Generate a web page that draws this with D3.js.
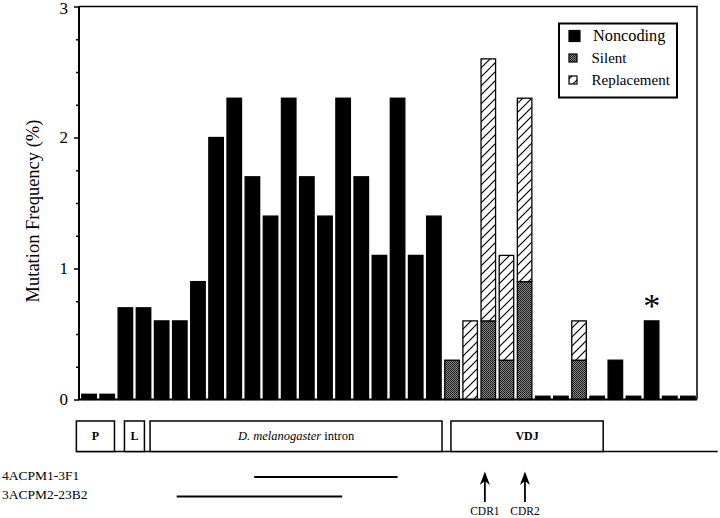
<!DOCTYPE html>
<html>
<head>
<meta charset="utf-8">
<script src="https://cdn.jsdelivr.net/npm/d3@7"></script>
<style>
  body { margin: 0; background: #fff; }
  svg text { font-family: "Liberation Serif", "Times New Roman", serif; fill: #000; }
</style>
</head>
<body>
<div id="vis-container"></div>
<script>
// 34 sequence positions along the construct
var positions = d3.range(34);

var noncoding   = [0.04, 0.04, 0.7, 0.7, 0.6, 0.6, 0.9, 2.0, 2.3, 1.7, 1.4, 2.3, 1.7, 1.4, 2.3, 1.7, 1.1, 2.3, 1.1, 1.4,
                   0, 0, 0, 0, 0, 0.025, 0.025, 0, 0.025, 0.3, 0.025, 0.6, 0.025, 0.025];
var silent      = [0, 0, 0, 0, 0, 0, 0, 0, 0, 0, 0, 0, 0, 0, 0, 0, 0, 0, 0, 0,
                   0.3, 0, 0.6, 0.3, 0.9, 0, 0, 0.3, 0, 0, 0, 0, 0, 0];
var replacement = [0, 0, 0, 0, 0, 0, 0, 0, 0, 0, 0, 0, 0, 0, 0, 0, 0, 0, 0, 0,
                   0, 0.6, 2.0, 0.8, 1.4, 0, 0, 0.3, 0, 0, 0, 0, 0, 0];

var yTicks = [0, 1, 2, 3];
var legendLabels = ["Noncoding", "Silent", "Replacement"];

// gene map, in position units
var regions   = [{ label: "P", from: -0.2, to: 1.9 },
                 { label: "L", from: 2.45, to: 3.55 },
                 { label: "intron", from: 3.86, to: 19.95 },
                 { label: "VDJ", from: 20.44, to: 28.83 }];
var mapEnd = 35.14;
var clones = [{ name: "4ACPM1-3F1", from: 9.6, to: 17.5 },
              { name: "3ACPM2-23B2", from: 5.33, to: 14.45 }];
var cdrs = [{ name: "CDR1", at: 22.31 }, { name: "CDR2", at: 24.52 }];
var starAt = 31;

var width = 720, height = 518;

var svg = d3.select("#vis-container")
  .append("svg")
    .attr("width", width)
    .attr("height", height);

var defs = svg.append("defs");

// stipple for silent
var stip = defs.append("pattern")
    .attr("id", "stipple")
    .attr("patternUnits", "userSpaceOnUse")
    .attr("width", 2).attr("height", 2);
stip.append("rect").attr("width", 2).attr("height", 2).attr("fill", "#8a8a8a");
stip.append("rect").attr("width", 1).attr("height", 1).attr("fill", "#111");
stip.append("rect").attr("x", 1).attr("y", 1).attr("width", 1).attr("height", 1).attr("fill", "#222");

// hatch for replacement
var hatch = defs.append("pattern")
    .attr("id", "hatch")
    .attr("patternUnits", "userSpaceOnUse")
    .attr("width", 9).attr("height", 9);
hatch.append("rect").attr("width", 9).attr("height", 9).attr("fill", "#fff");
hatch.append("path")
    .attr("d", "M0,9 L9,0 M-2,2 L2,-2 M7,11 L11,7")
    .attr("stroke", "#000").attr("stroke-width", 1.2);

var fills = { noncoding: "#000", silent: "url(#stipple)", replacement: "url(#hatch)" };

var xScale = d3.scaleBand()
  .domain(positions)
  .range([80, 697])
  .paddingInner(0.2)
  .paddingOuter(0.1);

var pos = d3.scaleLinear().domain([0, 34]).range([80, 697]);

var yScale = d3.scaleLinear()
  .domain([0, 3])
  .range([399.5, 6.5]);

// frame top + right
svg.append("path")
  .attr("d", "M" + 79 + "," + yScale(3) + "H" + 697 + "V" + yScale(0))
  .attr("fill", "none").attr("stroke", "#000").attr("stroke-width", 1.5);

// stacked bars
var table = positions.map(function(i) {
  return { noncoding: noncoding[i], silent: silent[i], replacement: replacement[i], i: i };
});
var stack = d3.stack().keys(["noncoding", "silent", "replacement"])(table);

stack.forEach(function(layer) {
  svg.append("g").selectAll("rect")
    .data(layer.filter(function(d) { return d[1] - d[0] > 0; }))
    .enter().append("rect")
      .attr("x", function(d) { return xScale(d.data.i); })
      .attr("width", xScale.bandwidth())
      .attr("y", function(d) { return yScale(d[1]); })
      .attr("height", function(d) { return yScale(d[0]) - yScale(d[1]); })
      .attr("fill", fills[layer.key])
      .attr("stroke", "#000")
      .attr("stroke-width", 1.3);
});

// y axis with minor ticks
var yAxis = d3.axisLeft(yScale).tickValues(yTicks).tickFormat(d3.format("d")).tickSize(5).tickPadding(6);
var yg = svg.append("g").attr("transform", "translate(79,0)").call(yAxis);
yg.select(".domain").attr("stroke-width", 2).attr("d", "M0," + yScale(3) + "V" + yScale(0));
yg.selectAll(".tick line").attr("stroke-width", 1.5);
yg.selectAll(".tick text").attr("font-size", 17).attr("font-family", "Liberation Serif");
yg.selectAll(".tick text").filter(function(d) { return d === 3; }).attr("dy", "0.4em");
svg.append("g").attr("transform", "translate(79,0)")
  .call(d3.axisLeft(yScale).tickValues(d3.range(0.25, 3, 0.25).filter(function(v) { return v % 1 !== 0; }))
    .tickSize(3).tickFormat(""))
  .call(function(g) { g.select(".domain").remove(); })
  .selectAll(".tick line").attr("stroke-width", 1.5);

// x axis line
svg.append("line")
  .attr("x1", 78).attr("x2", 697)
  .attr("y1", yScale(0)).attr("y2", yScale(0))
  .attr("stroke", "#000").attr("stroke-width", 2);

svg.append("text")
  .attr("transform", "translate(39," + 211 + ") rotate(-90)")
  .attr("text-anchor", "middle")
  .attr("font-size", 18.5)
  .text("Mutation Frequency (%)");

// asterisk
svg.append("text")
  .attr("x", xScale(starAt) + xScale.bandwidth() / 2)
  .attr("y", yScale(0.6) - 4)
  .attr("text-anchor", "middle")
  .attr("font-size", 34)
  .text("*");

// legend
var lg = svg.append("g");
lg.append("rect")
  .attr("x", 559).attr("y", 23.5).attr("width", 118).attr("height", 74)
  .attr("fill", "#fff").attr("stroke", "#000").attr("stroke-width", 2);
var legendKeys = ["noncoding", "silent", "replacement"];
var legendY = d3.scalePoint().domain(legendKeys).range([36, 80]);
legendKeys.forEach(function(k, i) {
  var s = i === 0 ? 11 : 8;
  lg.append("rect")
    .attr("x", 569).attr("y", legendY(k) - s / 2)
    .attr("width", s).attr("height", s)
    .attr("fill", fills[k]).attr("stroke", "#000").attr("stroke-width", 1.2);
  lg.append("text")
    .attr("x", i === 0 ? 593 : 591.5).attr("y", legendY(k) + 5)
    .attr("font-size", i === 0 ? 16.3 : 15)
    .text(legendLabels[i]);
});

// gene map
var mapTop = 421, mapBot = 451.5;
svg.append("line")
  .attr("x1", pos(regions[0].from)).attr("x2", pos(mapEnd))
  .attr("y1", mapBot).attr("y2", mapBot)
  .attr("stroke", "#000").attr("stroke-width", 1.5);
svg.append("g").selectAll("rect")
  .data(regions)
  .enter().append("rect")
    .attr("x", function(d) { return pos(d.from); })
    .attr("width", function(d) { return pos(d.to) - pos(d.from); })
    .attr("y", mapTop).attr("height", mapBot - mapTop)
    .attr("fill", "#fff").attr("stroke", "#000").attr("stroke-width", 1.5);
regions.forEach(function(d) {
  var t = svg.append("text")
    .attr("x", (pos(d.from) + pos(d.to)) / 2)
    .attr("y", 440)
    .attr("text-anchor", "middle")
    .attr("font-size", 12.5);
  if (d.label === "intron") {
    t.append("tspan").attr("font-style", "italic").text("D. melanogaster");
    t.append("tspan").text(" intron");
  } else {
    t.attr("font-weight", "bold").attr("font-size", 12).text(d.label);
  }
});

// clone coverage
var cloneY = d3.scalePoint().domain(clones.map(function(d) { return d.name; })).range([477, 496.5]);
clones.forEach(function(c) {
  svg.append("text")
    .attr("x", 2).attr("y", cloneY(c.name) + 2.5)
    .attr("font-size", 13.5)
    .text(c.name);
  svg.append("line")
    .attr("x1", pos(c.from)).attr("x2", pos(c.to))
    .attr("y1", cloneY(c.name)).attr("y2", cloneY(c.name))
    .attr("stroke", "#000").attr("stroke-width", 1.8);
});

// CDR arrows
cdrs.forEach(function(c) {
  var x = pos(c.at);
  svg.append("line")
    .attr("x1", x).attr("x2", x).attr("y1", 480).attr("y2", 502)
    .attr("stroke", "#000").attr("stroke-width", 1.8);
  svg.append("path")
    .attr("d", "M" + x + ",471.5 L" + (x + 5) + ",485 L" + x + ",481 L" + (x - 5) + ",485 Z")
    .attr("fill", "#000");
  svg.append("text")
    .attr("x", x).attr("y", 515)
    .attr("text-anchor", "middle")
    .attr("font-size", 11.5)
    .text(c.name);
});
</script>
</body>
</html>
